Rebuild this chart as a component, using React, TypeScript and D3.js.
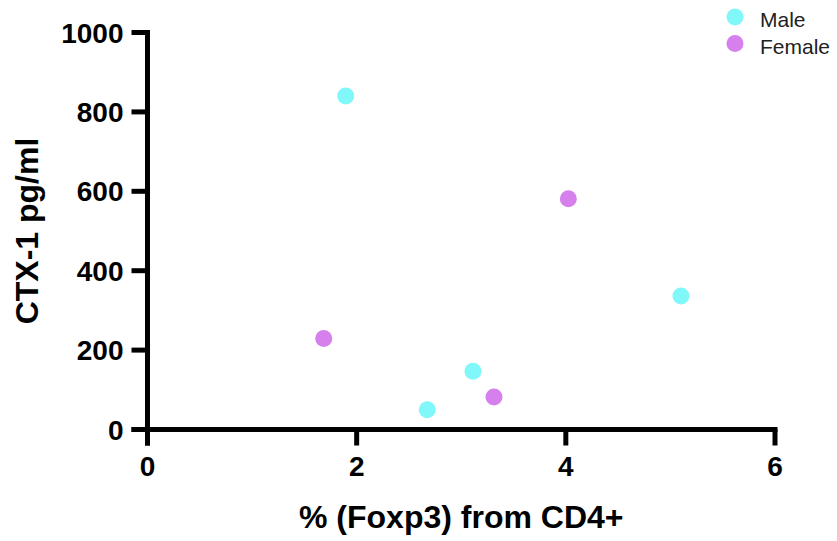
import React from "react";
import * as d3 from "d3";

const xTicks = [0, 2, 4, 6];
const yTicks = [0, 200, 400, 600, 800, 1000];

const maleX = [1.895, 2.675, 3.112, 5.101];
const maleY = [840, 50, 147, 336];
const femaleX = [1.685, 3.313, 4.024];
const femaleY = [229, 82, 581];

const seriesNames = ["Male", "Female"];
const seriesColors = ["#80F8FA", "#D580EC"];

const xTitle = "% (Foxp3) from CD4+";
const yTitle = "CTX-1 pg/ml";

const W = 837;
const H = 541;
const FONT = "'Liberation Sans', Arial, Helvetica, sans-serif";

export default function App() {
  const x = d3.scaleLinear().domain([0, 6]).range([147.5, 775]);
  const y = d3.scaleLinear().domain([0, 1000]).range([429.5, 32.5]);
  const sw = 5;
  const tickLen = 16;

  const series = [
    { name: seriesNames[0], color: seriesColors[0], xs: maleX, ys: maleY },
    { name: seriesNames[1], color: seriesColors[1], xs: femaleX, ys: femaleY },
  ];

  return (
    <svg
      width={W}
      height={H}
      style={{ position: "absolute", left: 0, top: 0, background: "#fff" }}
      fontFamily={FONT}
    >
      <rect x={0} y={0} width={W} height={H} fill="#fff" />
      {/* axes */}
      <line x1={x(0)} x2={x(0)} y1={y(1000) - sw / 2} y2={y(0) + tickLen} stroke="#000" strokeWidth={sw} />
      <line x1={x(0) - tickLen} x2={x(6) + sw / 2} y1={y(0)} y2={y(0)} stroke="#000" strokeWidth={sw} />
      {yTicks.map((t) => (
        <g key={"y" + t}>
          <line x1={x(0) - tickLen} x2={x(0)} y1={y(t)} y2={y(t)} stroke="#000" strokeWidth={sw} />
          <text
            x={x(0) - tickLen - 8}
            y={y(t)}
            dy="0.36em"
            textAnchor="end"
            fontSize={28}
            fontWeight="bold"
            fill="#000"
          >
            {t}
          </text>
        </g>
      ))}
      {xTicks.map((t) => (
        <g key={"x" + t}>
          <line x1={x(t)} x2={x(t)} y1={y(0)} y2={y(0) + tickLen} stroke="#000" strokeWidth={sw} />
          <text x={x(t)} y={475.5} textAnchor="middle" fontSize={28} fontWeight="bold" fill="#000">
            {t}
          </text>
        </g>
      ))}
      {/* titles */}
      <text x={(x(0) + x(6)) / 2} y={528} textAnchor="middle" fontSize={32} fontWeight="bold" fill="#000">
        {xTitle}
      </text>
      <text
        transform={`translate(38,${(137 + 325) / 2}) rotate(-90)`}
        textAnchor="middle"
        fontSize={32}
        fontWeight="bold"
        fill="#000"
      >
        {yTitle}
      </text>
      {/* points */}
      {series.map((s) =>
        s.xs.map((xv, i) => (
          <circle key={s.name + i} cx={x(xv)} cy={y(s.ys[i])} r={8.5} fill={s.color} />
        ))
      )}
      {/* legend */}
      {series.map((s, i) => (
        <g key={"leg" + s.name}>
          <circle cx={735} cy={17 + i * 26.5} r={8.5} fill={s.color} />
          <text x={760} y={27 + i * 26.5} fontSize={21} fill="#222">
            {s.name}
          </text>
        </g>
      ))}
    </svg>
  );
}
